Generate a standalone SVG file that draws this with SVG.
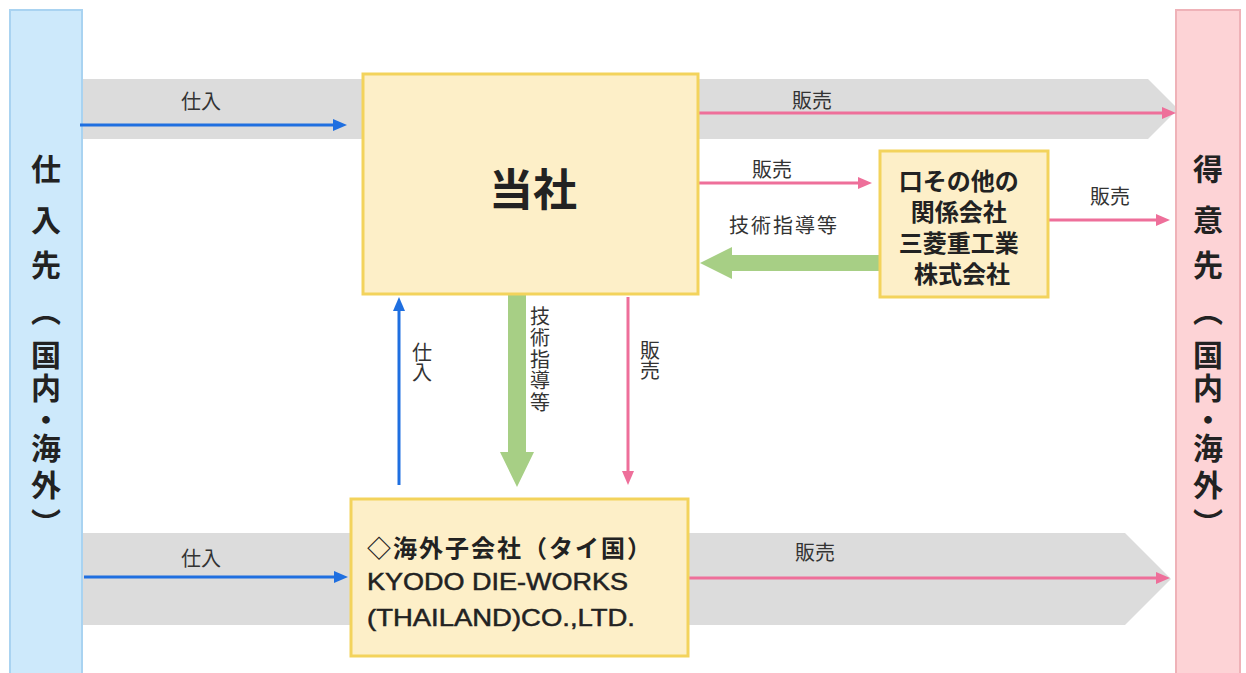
<svg xmlns="http://www.w3.org/2000/svg" width="1246" height="673" viewBox="0 0 1246 673">
<defs>
<style>
.jp{font-family:"Liberation Sans","Noto Sans CJK JP",sans-serif;}
.lbl{font-family:"Noto Sans CJK JP",sans-serif;font-size:20px;fill:#333;}
.vlbl{font-family:"Noto Sans CJK JP",sans-serif;font-size:20px;fill:#333;writing-mode:vertical-rl;}
.side{font-family:"Noto Sans CJK JP",sans-serif;font-size:30px;font-weight:bold;fill:#222;writing-mode:vertical-rl;}
.box{fill:#fdefc8;stroke:#f3d35c;stroke-width:3;}
.band{fill:#dcdcdc;}
.blue{stroke:#1f6fe0;stroke-width:3;fill:none;}
.pink{stroke:#ee6f9a;stroke-width:3;fill:none;}
.green{fill:#a7cf85;}
</style>
<marker id="ab" markerUnits="userSpaceOnUse" markerWidth="14" markerHeight="12" refX="6" refY="6" orient="auto"><path d="M0,0 L14,6 L0,12 z" fill="#1f6fe0"/></marker>
<marker id="ap" markerUnits="userSpaceOnUse" markerWidth="14" markerHeight="12" refX="6" refY="6" orient="auto"><path d="M0,0 L14,6 L0,12 z" fill="#ee6f9a"/></marker>
</defs>
<rect width="1246" height="673" fill="#ffffff"/>
<g id="bands">
<polygon class="band" points="82,79 1148,79 1178,109 1148,139 82,139"/>
<polygon class="band" points="82,533 1125,533 1171,579 1125,625 82,625"/>
</g>
<g id="suppliers">
<rect x="10" y="10" width="72" height="670" fill="#cde9fb" stroke="#a9d3f1" stroke-width="2"/>
<text class="side" x="46" y="154 205 250 296 340 373 405 433 470 508">仕入先（国内・海外）</text>
</g>
<g id="customers">
<rect x="1176" y="10" width="64" height="670" fill="#fdd3d6" stroke="#efb2b8" stroke-width="2"/>
<text class="side" x="1208" y="154 205 250 296 340 373 405 433 470 508">得意先（国内・海外）</text>
</g>
<g id="connectors">
<path class="blue" d="M80,125 H339" marker-end="url(#ab)"/>
<path class="pink" d="M698,113 H1168" marker-end="url(#ap)"/>
<path class="pink" d="M698,183 H864" marker-end="url(#ap)"/>
<path class="pink" d="M1048,220 H1162" marker-end="url(#ap)"/>
<path class="blue" d="M84,577 H340" marker-end="url(#ab)"/>
<path class="pink" d="M688,578 H1162" marker-end="url(#ap)"/>
<path class="blue" d="M399,485 V305" marker-end="url(#ab)"/>
<path class="pink" d="M628,297 V477" marker-end="url(#ap)"/>
<polygon class="green" points="880,255 732,255 732,247 700,263 732,279 732,271 880,271"/>
<polygon class="green" points="508,295 526,295 526,452 534,452 517,487 500,452 508,452"/>
<text class="lbl" x="201" y="109" text-anchor="middle">仕入</text>
<text class="lbl" x="812" y="108" text-anchor="middle">販売</text>
<text class="lbl" x="772" y="177" text-anchor="middle">販売</text>
<text class="lbl" x="784" y="233" text-anchor="middle" letter-spacing="2">技術指導等</text>
<text class="lbl" x="1110" y="204" text-anchor="middle">販売</text>
<text class="lbl" x="201" y="566" text-anchor="middle">仕入</text>
<text class="lbl" x="815" y="560" text-anchor="middle">販売</text>
<text class="vlbl" x="422" y="342">仕入</text>
<text class="vlbl" x="540" y="306" letter-spacing="1.6">技術指導等</text>
<text class="vlbl" x="650" y="340">販売</text>
</g>
<g id="company">
<rect class="box" x="363" y="74" width="335" height="220"/>
<text class="jp" x="533" y="206" text-anchor="middle" font-size="44" font-weight="bold" fill="#222">当社</text>
</g>
<g id="affiliate">
<rect class="box" x="880" y="151" width="168" height="146"/>
<text class="jp" font-size="24" font-weight="bold" fill="#222" text-anchor="middle">
<tspan x="962" y="190">口その他の</tspan>
<tspan x="962" y="221">関係会社</tspan>
<tspan x="962" y="252">三菱重工業</tspan>
<tspan x="962" y="283">株式会社</tspan>
</text>
</g>
<g id="subsidiary">
<rect class="box" x="351" y="499" width="337" height="157"/>
<text class="jp" x="367" y="557" font-size="24" font-weight="bold" fill="#222" textLength="284" lengthAdjust="spacing">◇海外子会社（タイ国）</text>
<text class="jp" x="367" y="590" font-size="24" fill="#222" stroke="#222" stroke-width="0.5" textLength="261" lengthAdjust="spacingAndGlyphs">KYODO DIE-WORKS</text>
<text class="jp" x="367" y="626" font-size="24" fill="#222" stroke="#222" stroke-width="0.5" textLength="268" lengthAdjust="spacingAndGlyphs">(THAILAND)CO.,LTD.</text>
</g>
</svg>
